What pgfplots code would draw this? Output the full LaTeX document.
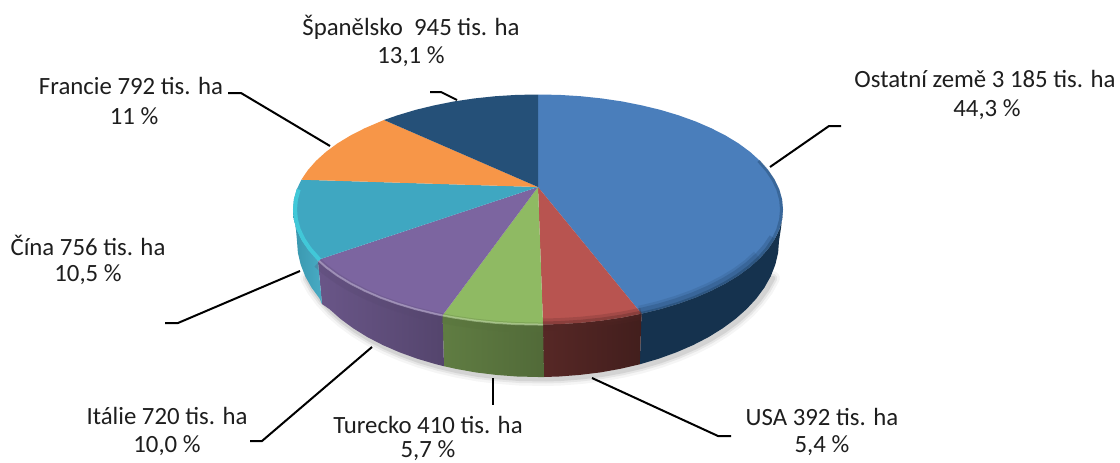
\documentclass[border=0pt]{standalone}
\usepackage{fontspec}
\setmainfont{Carlito}
\usepackage{pgfplots}
\usepackage{pgfplotstable}
\pgfplotsset{compat=1.18}
\definecolor{cBlue}{RGB}{74,126,187}
\definecolor{cRed}{RGB}{184,84,80}
\definecolor{cGreen}{RGB}{143,186,99}
\definecolor{cPurple}{RGB}{124,101,160}
\definecolor{cCyan}{RGB}{63,167,193}
\definecolor{cOrange}{RGB}{247,150,72}
\definecolor{cNavy}{RGB}{37,80,120}
\definecolor{cBlueDark}{RGB}{21,50,78}
\definecolor{cTxt}{RGB}{30,30,30}

% top faces: first row is the centre of the pie, the rest the rim (pixels)
\pgfplotstableread{
x y
538 187
538 94.5
559.4 94.9
580.5 96.2
601.4 98.4
621.8 101.4
641.5 105.3
660.5 109.9
678.5 115.3
695.5 121.4
711.2 128.2
725.7 135.6
738.7 143.5
750.2 152
760 160.9
768.2 170.2
774.6 179.7
779.3 189.5
782.1 199.5
783 209.5
782.1 219.5
779.3 229.5
774.6 239.3
768.2 248.8
760 258.1
750.2 267
738.7 275.5
725.7 283.4
711.2 290.8
695.5 297.6
678.5 303.7
660.5 309.1
641.5 313.7
}\tBlue
\pgfplotstableread{
x y
538 187
641.5 313.7
621.8 317.6
601.4 320.6
580.5 322.8
559.4 324.1
543 324.5
}\tRed
\pgfplotstableread{
x y
538 187
543 324.5
538 324.5
516.6 324.1
495.5 322.8
474.6 320.6
454.2 317.6
442.5 315.4
}\tGreen
\pgfplotstableread{
x y
538 187
442.5 315.4
434.5 313.7
415.5 309.1
397.5 303.7
380.5 297.6
364.8 290.8
350.3 283.4
337.3 275.5
325.8 267
317.8 259.9
}\tPurple
\pgfplotstableread{
x y
538 187
317.8 259.9
316 258.1
307.8 248.8
301.4 239.3
296.7 229.5
293.9 219.5
293 209.5
293.9 199.5
296.7 189.5
301.4 179.7
}\tCyan
\pgfplotstableread{
x y
538 187
301.4 179.7
307.8 170.2
316 160.9
325.8 152
337.3 143.5
350.3 135.6
364.8 128.2
384 120
}\tOrange
\pgfplotstableread{
x y
538 187
384 120
397.5 115.3
415.5 109.9
434.5 105.3
454.2 101.4
474.6 98.4
495.5 96.2
516.6 94.9
538 94.5
}\tNavy

% side walls
\pgfplotstableread{
x y
783 209.5
782.1 219.5
779.3 229.5
774.6 239.3
768.2 248.8
760 258.1
750.2 267
738.7 275.5
725.7 283.4
711.2 290.8
695.5 297.6
678.5 303.7
660.5 309.1
641.5 313.7
639.8 364.3
658.5 358.8
676.2 352.4
692.9 345.2
708.4 337.2
722.6 328.4
735.4 319
746.7 309
756.4 298.5
764.5 287.5
770.8 276.2
775.3 264.6
778.1 252.9
779 241
781 228
}\sBlue
\pgfplotstableread{
x y
641.5 313.7
621.8 317.6
601.4 320.6
580.5 322.8
559.4 324.1
543 324.5
544 377
559 376.5
579.8 374.9
600.4 372.4
620.4 368.8
639.8 364.3
}\sRed
\pgfplotstableread{
x y
543 324.5
538 324.5
516.6 324.1
495.5 322.8
474.6 320.6
454.2 317.6
442.5 315.4
444 366.2
455.6 368.8
475.6 372.4
496.2 374.9
517 376.5
538 377
544 377
}\sGreen
\pgfplotstableread{
x y
442.5 315.4
434.5 313.7
415.5 309.1
397.5 303.7
380.5 297.6
364.8 290.8
350.3 283.4
337.3 275.5
325.8 267
317.8 259.9
322 304
329.3 309
340.6 319
353.4 328.4
367.6 337.2
383.1 345.2
399.8 352.4
417.5 358.8
436.2 364.3
444 366.2
}\sPurple
\pgfplotstableread{
x y
317.8 259.9
316 258.1
307.8 248.8
301.4 239.3
296.7 229.5
293.9 219.5
293 209.5
296 230
297 241
297.9 252.9
300.7 264.6
305.2 276.2
311.5 287.5
319.6 298.5
322 304
}\sCyan

% lower outline, for the drop shadow
\pgfplotstableread{
x y
770.8 276.2
764.5 287.5
756.4 298.5
746.7 309
735.4 319
722.6 328.4
708.4 337.2
692.9 345.2
676.2 352.4
658.5 358.8
639.8 364.3
620.4 368.8
600.4 372.4
579.8 374.9
559 376.5
544 377
517 376.5
496.2 374.9
475.6 372.4
455.6 368.8
436.2 364.3
417.5 358.8
399.8 352.4
383.1 345.2
367.6 337.2
353.4 328.4
340.6 319
329.3 309
319.6 298.5
311.5 287.5
305.2 276.2
}\tShadow

\begin{document}
\begin{tikzpicture}
\begin{axis}[
  hide axis, scale only axis, width=1120pt, height=463pt,
  xmin=0, xmax=1120, ymin=0, ymax=463, y dir=reverse,
  clip=true,
]
\addplot[fill=white, draw=none] coordinates {(0,0) (1120,0) (1120,463) (0,463)};

% drop shadow
\addplot[draw=black, opacity=.04, line width=14pt, line cap=round, xshift=2pt, yshift=-2pt] table {\tShadow};
\addplot[draw=black, opacity=.06, line width=9pt, line cap=round, xshift=2pt, yshift=-2pt] table {\tShadow};
\addplot[draw=black, opacity=.08, line width=5pt, line cap=round, xshift=2pt, yshift=-2pt] table {\tShadow};

% side walls
\addplot[draw=none, fill=cBlueDark] table {\sBlue};
\addplot[draw=none, left color=cRed!47!black, right color=cRed!36!black] table {\sRed};
\addplot[draw=none, left color=cGreen!67!black, right color=cGreen!57!black] table {\sGreen};
\addplot[draw=none, left color=cPurple!85!black, right color=cPurple!68!black] table {\sPurple};
\addplot[draw=none, left color=cCyan!90!black, right color=cCyan!95!white] table {\sCyan};

% top faces
\addplot[draw=none, fill=cBlue] table {\tBlue};
\addplot[draw=none, fill=cRed] table {\tRed};
\addplot[draw=none, fill=cGreen] table {\tGreen};
\addplot[draw=none, fill=cPurple] table {\tPurple};
\addplot[draw=none, fill=cCyan] table {\tCyan};
\addplot[draw=none, fill=cOrange] table {\tOrange};
\addplot[draw=none, fill=cNavy] table {\tNavy};

% rim bevel
\addplot[draw=cBlueDark, opacity=.3, line width=3pt, xshift=-1.5pt, skip coords between index={0}{14}] table {\tBlue};
\addplot[draw=cBlueDark, opacity=.12, line width=12pt, xshift=-2pt, yshift=2pt, skip coords between index={0}{24}] table {\tBlue};
\addplot[draw=cBlueDark, opacity=.2, line width=7pt, xshift=-2pt, yshift=2pt, skip coords between index={0}{22}] table {\tBlue};
\addplot[draw=cRed!45!black, opacity=.2, line width=12pt, skip coords between index={0}{1}] table {\tRed};
\addplot[draw=cRed!45!black, opacity=.3, line width=6pt, skip coords between index={0}{1}] table {\tRed};
\addplot[draw=cGreen!60!black, opacity=.25, line width=10pt, skip coords between index={0}{1}, yshift=-3pt] table {\tGreen};
\addplot[draw=cGreen!60!white, opacity=.6, line width=2pt, skip coords between index={0}{1}] table {\tGreen};
\addplot[draw=cPurple!70!black, opacity=.25, line width=10pt, skip coords between index={0}{1}, yshift=-3pt] table {\tPurple};
\addplot[draw=cPurple!60!white, opacity=.7, line width=2pt, skip coords between index={0}{1}] table {\tPurple};
\addplot[draw=cCyan!70!cyan!90!white, line width=4pt, xshift=2pt, skip coords between index={0}{1}, skip coords between index={10}{11}] table {\tCyan};

% leader lines
\addplot[black, line width=2pt] coordinates {(770,167) (829,126) (841,126)};
\addplot[black, line width=2pt] coordinates {(592,378) (718,436) (731,436)};
\addplot[black, line width=2pt] coordinates {(493,378) (493,405)};
\addplot[black, line width=2pt] coordinates {(372,347) (262,441) (250,441)};
\addplot[black, line width=2pt] coordinates {(300,271) (178,323) (165,323)};
\addplot[black, line width=2pt] coordinates {(330,146) (241,93) (228,93)};
\addplot[black, line width=2pt] coordinates {(457,100) (441,92) (430,92)};

% labels
\tikzset{lab/.style={font=\fontsize{24.8}{26}\selectfont, text=cTxt, inner sep=0pt, anchor=center}}
\node[lab] at (axis cs:985,79) {Ostatní země 3 185 tis. ha};
\node[lab] at (axis cs:987,110) {44,3 \%};
\node[lab] at (axis cs:822,417) {USA 392 tis. ha};
\node[lab] at (axis cs:822,446) {5,4 \%};
\node[lab] at (axis cs:428,425) {Turecko 410 tis. ha};
\node[lab] at (axis cs:428,451) {5,7 \%};
\node[lab] at (axis cs:167,416) {Itálie 720 tis. ha};
\node[lab] at (axis cs:167,446) {10,0 \%};
\node[lab] at (axis cs:88,245) {Čína 756 tis. ha};
\node[lab] at (axis cs:88,275) {10,5 \%};
\node[lab] at (axis cs:131,86) {Francie 792 tis. ha};
\node[lab] at (axis cs:134,116) {11 \%};
\node[lab] at (axis cs:411,27) {Španělsko\ \ 945 tis. ha};
\node[lab] at (axis cs:411,57) {13,1 \%};
\end{axis}
\end{tikzpicture}
\end{document}
